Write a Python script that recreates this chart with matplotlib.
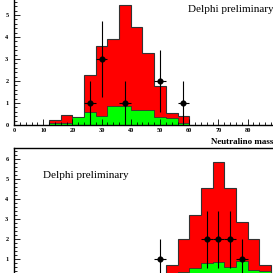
import numpy as np
import matplotlib
matplotlib.use("Agg")
import matplotlib.pyplot as plt
from matplotlib.ticker import MultipleLocator

# upper panel: bins of 4 GeV from 12 to 60
top_edges = [12, 16, 20, 24, 28, 32, 36, 40, 44, 48, 52, 56, 60]
top_total = [0.22, 0.44, 0.38, 2.27, 3.57, 3.92, 5.45, 4.44, 3.29, 1.77, 0.55, 0.40]
top_green = [0.10, 0.10, 0.35, 0.58, 0.43, 0.88, 0.88, 0.66, 0.66, 0.36, 0.30, 0.10]
top_data_x = [26, 30, 38, 50, 58]
top_data_y = [1, 3, 1, 2, 1]

# lower panel: bins of 4 GeV from 52 to 88
bot_edges = [52, 56, 60, 64, 68, 72, 76, 80, 84, 88]
bot_total = [0.72, 2.0, 3.2, 4.55, 5.88, 4.55, 2.88, 2.0, 0.70]
bot_green = [0.15, 0.38, 0.58, 0.83, 0.88, 0.63, 0.90, 0.47, 0.40]
bot_data_x = [50, 66, 70, 74, 78]
bot_data_y = [1, 2, 2, 2, 1]

plt.rcParams["font.family"] = ["Liberation Serif", "DejaVu Serif"]

W = H = 273.0
fig = plt.figure(figsize=(2.73, 2.73), dpi=100)


def px_axes(left, top, right, bottom):
    return fig.add_axes([left / W, 1 - bottom / H, (right - left) / W, (bottom - top) / H])


def style_axes(ax, ymax):
    ax.set_xlim(0, 100)
    ax.set_ylim(0, ymax)
    ax.xaxis.set_major_locator(MultipleLocator(10))
    ax.xaxis.set_minor_locator(MultipleLocator(2))
    ax.yaxis.set_major_locator(MultipleLocator(1))
    ax.yaxis.set_minor_locator(MultipleLocator(0.2))
    ax.tick_params(which="both", direction="in", width=0.6, labelsize=4.5)
    ax.tick_params(which="major", length=4)
    ax.tick_params(which="minor", length=2)
    ax.tick_params(axis="y", pad=4)
    ax.tick_params(axis="x", pad=2)
    for lab in ax.get_xticklabels() + ax.get_yticklabels():
        lab.set_fontweight("bold")
    for sp in ax.spines.values():
        sp.set_linewidth(1.0)


def draw_panel(ax, edges, total, green, dx, dy):
    ax.stairs(total, edges, fill=True, facecolor="#ff0000", edgecolor="#333333", lw=0.8)
    ax.stairs(green, edges, fill=True, facecolor="#00ff00", edgecolor="#333333", lw=0.6)
    ax.errorbar(dx, dy, yerr=np.sqrt(dy), xerr=2, fmt="o", color="black",
                ms=3.4, elinewidth=0.8, capsize=0)


ax1 = px_axes(14, 125 - 6 * 22, 14 + 100 * 2.92, 125)
draw_panel(ax1, top_edges, top_total, top_green, top_data_x, top_data_y)
style_axes(ax1, 6)

ax2 = px_axes(14, 148, 14 + 100 * 2.92, 279.3)
draw_panel(ax2, bot_edges, bot_total, bot_green, bot_data_x, bot_data_y)
style_axes(ax2, 6.57)

fig.text(188 / W, 1 - 10 / H, "Delphi preliminary", fontsize=8, ha="left", va="center")
fig.text(43 / W, 1 - 176 / H, "Delphi preliminary", fontsize=8, ha="left", va="center")
fig.text(211 / W, 1 - 141 / H, "Neutralino mass (GeV)", fontsize=6.5, fontweight="bold",
         ha="left", va="center")

fig.savefig("out.png", dpi=100)
